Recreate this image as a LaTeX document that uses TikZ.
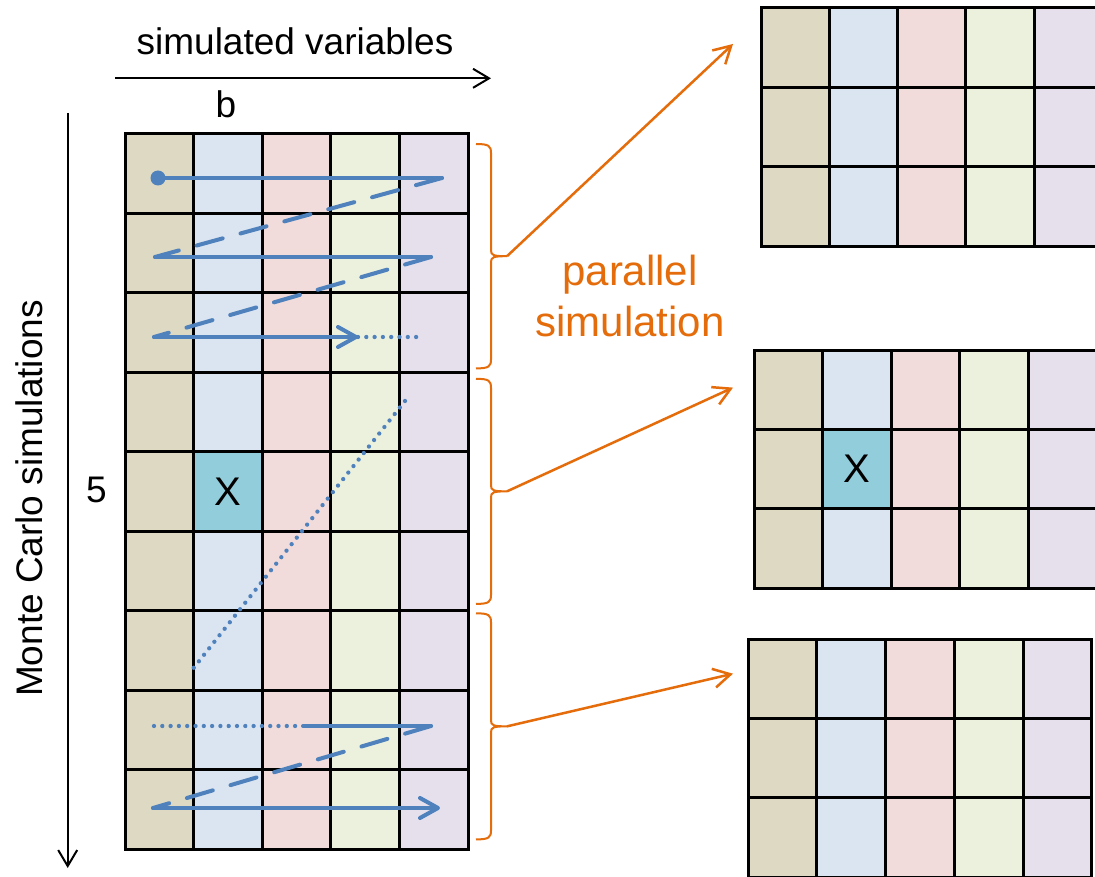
\documentclass[tikz,border=0pt]{standalone}
\usepackage{fontspec}
\setmainfont{Liberation Sans}
\usetikzlibrary{arrows.meta}
\definecolor{cA}{HTML}{DDD9C3}
\definecolor{cB}{HTML}{DBE5F1}
\definecolor{cC}{HTML}{F2DCDB}
\definecolor{cD}{HTML}{EBF1DD}
\definecolor{cE}{HTML}{E5E0EC}
\definecolor{cX}{HTML}{92CDDC}
\definecolor{bl}{HTML}{4F81BD}
\definecolor{org}{HTML}{E46C0A}
\newcommand\mcbig{\fontsize{37}{44}\selectfont}
\newcommand\mcx{\fontsize{40}{48}\selectfont}
\newcommand\mcorg{\fontsize{42}{50}\selectfont}
% #1 x0, #2 y0, #3 cell width, #4 cell height, #5 rows
\newcommand\mcfill[5]{%
  \foreach \ci/\cc in {0/cA,1/cB,2/cC,3/cD,4/cE}{%
    \fill[\cc] ({#1+\ci*#3},#2) rectangle ({#1+(\ci+1)*#3},{#2+#5*#4});
  }%
}
\newcommand\mclines[5]{%
  \foreach \ci in {0,...,5}{%
    \draw[gridline] ({#1+\ci*#3},#2) -- ({#1+\ci*#3},{#2+#5*#4});
  }%
  \foreach \ri in {0,...,#5}{%
    \draw[gridline] (#1,{#2+\ri*#4}) -- ({#1+5*#3},{#2+\ri*#4});
  }%
}
% #1 top, #2 bottom, #3 name of tip coordinate
\newcommand\mcbrace[3]{%
  \pgfmathsetmacro\bm{(#1+#2)/2}%
  \coordinate (#3) at (507,\bm);
  \draw[bracestyle] (476,#1) .. controls (489,#1) and (491,{#1+2}) .. (491,{#1+9})
    -- (491,{\bm-6}) .. controls (491,{\bm-1}) and (493,\bm) .. (#3)
    .. controls (493,\bm) and (491,{\bm+1}) .. (491,{\bm+6})
    -- (491,{#2-9}) .. controls (491,{#2-2}) and (489,#2) .. (476,#2);
}
\begin{document}
\begin{tikzpicture}[x=1pt,y=-1pt,
  gridline/.style={black,line width=3pt,line cap=rect},
  bsolid/.style={bl,line width=4pt,line cap=round},
  bdash/.style={bl,line width=4pt,line cap=round,dash pattern=on 27pt off 18.5pt},
  bdot/.style={bl,line width=4.3pt,line cap=round,dash pattern=on 0pt off 8.3pt},
  barrow/.style={-{Straight Barb[length=18pt,width=20pt,round]}},
  karrow/.style={black,line width=2pt,-{Straight Barb[length=16pt,width=19pt]}},
  oarrow/.style={org,line width=2.5pt,-{Straight Barb[length=17pt,width=19pt]}},
  bracestyle/.style={org,line width=2pt},
  lbl/.style={inner sep=0pt,anchor=base,font=\mcbig},
  olbl/.style={inner sep=0pt,anchor=base,font=\mcorg,text=org}]
\clip (0,0) rectangle (1095,877);
\fill[white] (0,0) rectangle (1095,877);

% ---- main grid
\mcfill{125}{134}{68.6}{79.444}{9}
\fill[cX] (193.6,451.8) rectangle (262.2,531.2);
\mclines{125}{134}{68.6}{79.444}{9}
\node[inner sep=0pt,font=\mcx] (xa) at (227.9,491.5) {X};

% ---- right grids
\mcfill{761}{7.3}{68.3}{79.8}{3}
\mclines{761}{7.3}{68.3}{79.8}{3}
\mcfill{754}{350}{68.5}{79.4}{3}
\fill[cX] (822.5,429.4) rectangle (891,508.8);
\mclines{754}{350}{68.5}{79.4}{3}
\node[inner sep=0pt,font=\mcx] (xb) at (856.75,469.1) {X};
\mcfill{748.2}{639}{68.7}{79.4}{3}
\mclines{748.2}{639}{68.7}{79.4}{3}

% ---- axes
\coordinate (hs) at (115,78.3);
\coordinate (he) at (491,78.3);
\draw[karrow] (hs) -- (he);
\coordinate (vs) at (67.7,113);
\coordinate (ve) at (67.7,868);
\draw[karrow] (vs) -- (ve);
\node[lbl] (sv) at (295,54.5) {simulated variables};
\node[lbl] (b) at (226,117.5) {b};
\node[lbl] (five) at (96.5,502.7) {5};
\node[lbl,rotate=90] (mc) at (42,498.5) {Monte Carlo simulations};

% ---- simulation path
\coordinate (s0) at (158,178);
\coordinate (r1) at (442,178);
\coordinate (l2) at (155,257);
\coordinate (r2) at (431,257);
\coordinate (l3) at (154,337);
\coordinate (a3) at (358,337);
\coordinate (e3) at (422,337);
\coordinate (d1) at (405,401);
\coordinate (d2) at (192,670);
\coordinate (l8) at (154,726);
\coordinate (m8) at (303,726);
\coordinate (r8) at (431,726);
\coordinate (l9) at (153,808);
\coordinate (e9) at (440,808);
\draw[bsolid] (s0) -- (r1);
\draw[bdash] (r1) -- (l2);
\draw[bsolid] (l2) -- (r2);
\draw[bdash] (r2) -- (l3);
\draw[bsolid,barrow] (l3) -- (a3);
\draw[bdot] (a3) -- (e3);
\draw[bdot] (d1) -- (d2);
\draw[bdot] (l8) -- (m8);
\draw[bsolid] (m8) -- (r8);
\draw[bdash] (r8) -- (l9);
\draw[bsolid,barrow] (l9) -- (e9);
\fill[bl] (s0) circle (7.5pt);

% ---- braces and parallel arrows
\mcbrace{144}{368.4}{t1}
\mcbrace{378.8}{603.9}{t2}
\mcbrace{613.3}{839.4}{t3}
\coordinate (g1) at (733,44);
\coordinate (g2) at (733,387.6);
\coordinate (g3) at (733,673.7);
\draw[oarrow] (t1) -- (g1);
\draw[oarrow] (t2) -- (g2);
\draw[oarrow] (t3) -- (g3);
\node[olbl] (par1) at (630,285.7) {parallel};
\node[olbl] (par2) at (630,336.7) {simulation};
\end{tikzpicture}
\end{document}
